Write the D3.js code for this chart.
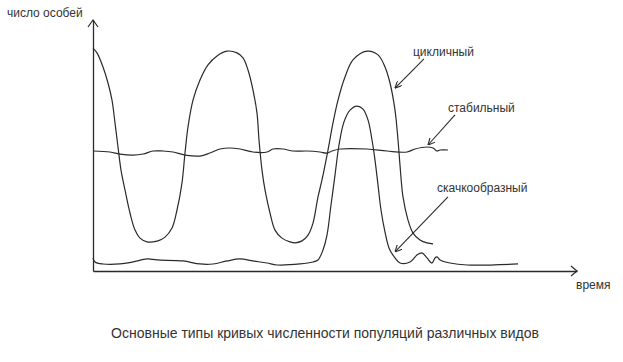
<!DOCTYPE html>
<html>
<head>
<meta charset="utf-8">
<script src="https://cdn.jsdelivr.net/npm/d3@7"></script>
<style>
  body { margin: 0; background: #fff; }
  text { font-family: "Liberation Sans", Arial, sans-serif; fill: #333; }
</style>
</head>
<body>
<div id="chart"></div>
<script>
// time units along x, population units along y
var cyclicT = [0, 1, 2.5, 3.75, 4.75, 5.5, 6.25, 7, 8, 9.25, 10.5, 11.75, 13.5, 15, 16.25, 18, 19.75, 21, 22.25, 23, 23.75, 25, 26.75, 28.75, 31, 33.5, 36, 37.5, 38.75, 40, 41, 41.5, 42.25, 43, 44.25, 45.5, 47.25, 49.25, 50.5, 52.25, 53.75, 55, 56.25, 57.25, 58.75, 60, 61.25, 63, 65, 68.5, 71.25, 73, 74.25, 75.5, 76.25, 76.75, 77.5, 78.75, 80, 81.75, 83.5, 85];
var cyclicV = [88.8, 86.9, 81.3, 74.9, 68.1, 59.0, 49.4, 40.2, 32.3, 23.1, 16.3, 13.1, 11.6, 11.6, 12.0, 13.5, 17.1, 24.3, 35.1, 47.0, 57.4, 68.1, 76.1, 82.1, 85.7, 87.6, 86.9, 84.9, 80.1, 72.1, 62.9, 52.2, 40.2, 32.3, 23.1, 16.3, 13.1, 11.6, 11.2, 12.0, 14.3, 19.1, 29.5, 36.3, 48.2, 59.0, 68.1, 77.3, 84.1, 87.6, 86.1, 81.3, 74.9, 64.1, 52.2, 42.2, 29.5, 20.3, 15.1, 12.4, 11.2, 10.8];

var stableT = [0, 4.25, 6.75, 10, 12.5, 15, 17.5, 20, 23, 26.75, 29.25, 31.75, 34.25, 36.75, 40, 43.5, 45, 47.5, 50, 53.5, 56.75, 58.5, 59.75, 61.75, 68.5, 73.5, 78.5, 80.5, 83.5, 85, 86, 86.75, 88.75];
var stableV = [47.8, 47.4, 46.6, 46.2, 46.6, 47.8, 47.8, 47.4, 46.2, 45.8, 47.0, 48.6, 49.0, 48.6, 47.4, 47.4, 48.6, 48.6, 47.8, 47.8, 47.4, 47.0, 47.8, 48.6, 48.6, 47.8, 47.4, 48.6, 49.4, 49.0, 47.8, 48.2, 48.2];

var jumpT = [0, 0.5, 2.5, 6.75, 10, 13.5, 16, 22.5, 26.75, 30, 33.5, 36.75, 40, 43.5, 46, 51.75, 55, 56.25, 57.5, 58.5, 59.5, 60.5, 61.5, 62.75, 64.25, 66, 67.5, 68.75, 69.75, 70.5, 71.25, 72, 73, 74, 75.5, 76.75, 79.25, 81, 82.25, 83.5, 84.75, 85.5, 86, 86.75, 89.25, 93.5, 106.25];
var jumpV = [5.2, 3.6, 2.8, 2.8, 3.6, 4.8, 4.4, 4.0, 2.8, 2.8, 4.0, 4.8, 4.0, 3.2, 2.4, 2.8, 3.6, 4.4, 8.4, 14.3, 26.3, 38.2, 50.2, 59.4, 64.1, 65.7, 64.5, 60.2, 52.2, 44.2, 34.3, 24.3, 15.5, 9.2, 5.2, 3.2, 3.6, 6.4, 7.2, 5.2, 3.2, 5.2, 5.6, 4.4, 3.2, 2.4, 2.8];

// labels with pointer arrows: [text anchor t, v], [arrow tail t, v], [arrow tip t, v]
var labels = ["цикличный", "стабильный", "скачкообразный"];
var labelAt = [[80, 85.7], [88.75, 63.3], [86, 31.5]];
var arrowFrom = [[82.75, 84.5], [90.5, 62.2], [88.75, 29.5]];
var arrowTo = [[75.5, 72.9], [83.75, 50.2], [75.5, 7.6]];

var yTitle = "число особей";
var xTitle = "время";
var caption = "Основные типы кривых численности популяций различных видов";

var width = 623, height = 362;
var svg = d3.select("#chart").append("svg")
    .attr("width", width)
    .attr("height", height);

var x = d3.scaleLinear().domain([0, 121]).range([93, 577]);
var y = d3.scaleLinear().domain([0, 100]).range([271, 20]);

var ink = "#2a2a2a";

// axes (line only, no ticks)
svg.append("g")
    .attr("transform", "translate(0," + y(0) + ")")
    .call(d3.axisBottom(x).ticks(0).tickSize(0).tickSizeOuter(0))
    .call(function(g) { g.select(".domain").attr("stroke", ink).attr("stroke-width", 1.3); });
svg.append("g")
    .attr("transform", "translate(" + x(0) + ",0)")
    .call(d3.axisLeft(y).ticks(0).tickSize(0).tickSizeOuter(0))
    .call(function(g) { g.select(".domain").attr("stroke", ink).attr("stroke-width", 1.3); });

// axis arrow heads
svg.append("path")
    .attr("d", "M" + (x(0) - 5) + "," + (y(100) + 7) + "L" + x(0) + "," + y(100) + "L" + (x(0) + 5) + "," + (y(100) + 7))
    .attr("fill", "none").attr("stroke", ink).attr("stroke-width", 1.2);
svg.append("path")
    .attr("d", "M" + (x(121) - 6) + "," + (y(0) - 5) + "L" + x(121) + "," + y(0) + "L" + (x(121) - 6) + "," + (y(0) + 5))
    .attr("fill", "none").attr("stroke", ink).attr("stroke-width", 1.2);

var line = d3.line()
    .x(function(d) { return x(d[0]); })
    .y(function(d) { return y(d[1]); })
    .curve(d3.curveCatmullRom.alpha(0.5));

var series = [d3.zip(cyclicT, cyclicV), d3.zip(stableT, stableV), d3.zip(jumpT, jumpV)];

svg.selectAll(".curve")
    .data(series)
  .enter().append("path")
    .attr("class", "curve")
    .attr("d", line)
    .attr("fill", "none")
    .attr("stroke", ink)
    .attr("stroke-width", 1.2);

svg.append("defs").append("marker")
    .attr("id", "head")
    .attr("viewBox", "0 0 10 10")
    .attr("refX", 10).attr("refY", 5)
    .attr("markerWidth", 7).attr("markerHeight", 7)
    .attr("markerUnits", "userSpaceOnUse")
    .attr("orient", "auto")
  .append("path")
    .attr("d", "M0,0L10,5L0,10")
    .attr("fill", "none")
    .attr("stroke", ink)
    .attr("stroke-width", 1.6);

labels.forEach(function(name, i) {
    svg.append("line")
        .attr("x1", x(arrowFrom[i][0])).attr("y1", y(arrowFrom[i][1]))
        .attr("x2", x(arrowTo[i][0])).attr("y2", y(arrowTo[i][1]))
        .attr("stroke", ink)
        .attr("stroke-width", 1.1)
        .attr("marker-end", "url(#head)");
    svg.append("text")
        .attr("x", x(labelAt[i][0]))
        .attr("y", y(labelAt[i][1]))
        .attr("font-size", 12)
        .text(name);
});

svg.append("text")
    .attr("x", 7).attr("y", 17)
    .attr("font-size", 12)
    .text(yTitle);

svg.append("text")
    .attr("x", 576).attr("y", 289)
    .attr("font-size", 12)
    .text(xTitle);

svg.append("text")
    .attr("x", 325).attr("y", 338)
    .attr("text-anchor", "middle")
    .attr("font-size", 14)
    .text(caption);
</script>
</body>
</html>
